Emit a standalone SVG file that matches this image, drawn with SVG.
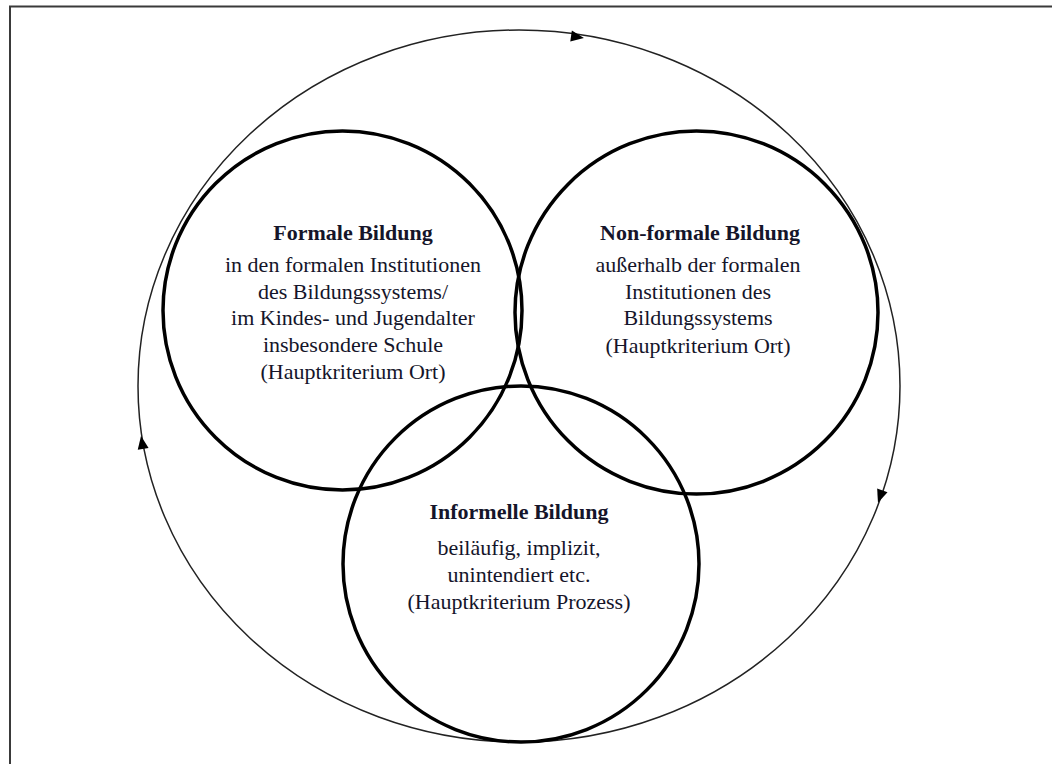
<svg xmlns="http://www.w3.org/2000/svg" xmlns:xlink="http://www.w3.org/1999/xlink" width="1052" height="764" viewBox="0 0 1052 764">
<style>
  .frame { fill: none; stroke: #3a3a3a; stroke-width: 2; }
  .outer { fill: none; stroke: #222; stroke-width: 1.5; }
  .ring { fill: none; stroke: #000; stroke-width: 3.5; }
  .ah { fill: #000; }
  text { font-family: "Liberation Serif", "Times New Roman", serif; font-size: 22px; fill: #15152a; text-anchor: middle; }
  .title { font-weight: bold; }
</style>
<defs>
  <path id="arrowhead" class="ah" d="M6,0 L-7,-5.5 L-7,5.5 Z"/>
</defs>
<rect width="1052" height="764" fill="#fff"/>
<path class="frame" d="M10,770 L10,6.5 L1060,6.5"/>

<g id="connectors">
  <ellipse class="outer" cx="519" cy="386" rx="381" ry="356"/>
  <use xlink:href="#arrowhead" href="#arrowhead" transform="translate(578,37) rotate(8.4)"/>
  <use xlink:href="#arrowhead" href="#arrowhead" transform="translate(142,442) rotate(-99.6)"/>
  <use xlink:href="#arrowhead" href="#arrowhead" transform="translate(880,497) rotate(109.4)"/>
</g>

<g id="formale-bildung">
  <circle class="ring" cx="342.5" cy="310.5" r="179.5"/>
  <text class="title" x="353" y="240">Formale Bildung</text>
  <text x="353" y="272">in den formalen Institutionen</text>
  <text x="353" y="299">des Bildungssystems/</text>
  <text x="353" y="325">im Kindes- und Jugendalter</text>
  <text x="353" y="352">insbesondere Schule</text>
  <text x="353" y="379">(Hauptkriterium Ort)</text>
</g>

<g id="non-formale-bildung">
  <circle class="ring" cx="696.5" cy="312.5" r="181.5"/>
  <text class="title" x="700" y="240">Non-formale Bildung</text>
  <text x="698" y="272">außerhalb der formalen</text>
  <text x="698" y="299">Institutionen des</text>
  <text x="698" y="325">Bildungssystems</text>
  <text x="698" y="353">(Hauptkriterium Ort)</text>
</g>

<g id="informelle-bildung">
  <circle class="ring" cx="521" cy="564" r="178"/>
  <text class="title" x="519" y="519">Informelle Bildung</text>
  <text x="519" y="555">beiläufig, implizit,</text>
  <text x="519" y="582">unintendiert etc.</text>
  <text x="519" y="609">(Hauptkriterium Prozess)</text>
</g>
</svg>
